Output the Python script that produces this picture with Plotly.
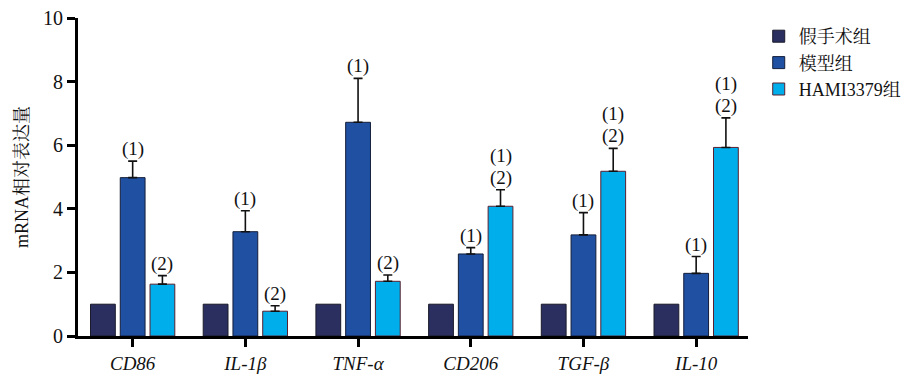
import plotly.graph_objects as go

categories = ["CD86", "IL-1β", "TNF-α", "CD206", "TGF-β", "IL-10"]
groups = ["假手术组", "模型组", "HAMI3379组"]
sham = [1.0, 1.0, 1.0, 1.0, 1.0, 1.0]
model = [4.98, 3.28, 6.72, 2.58, 3.18, 1.97]
hami = [1.63, 0.78, 1.72, 4.08, 5.18, 5.93]
sham_err = [0, 0, 0, 0, 0, 0]
model_err = [0.52, 0.66, 1.38, 0.20, 0.70, 0.53]
hami_err = [0.27, 0.17, 0.20, 0.52, 0.72, 0.93]
model_sig = ["(1)", "(1)", "(1)", "(1)", "(1)", "(1)"]
hami_sig_low = ["(2)", "(2)", "(2)", "(2)", "(2)", "(2)"]
hami_sig_high = ["", "", "", "(1)", "(1)", "(1)"]
yticks = [0, 2, 4, 6, 8, 10]

colors = ["#2a2f5f", "#1f50a2", "#00aeeb"]
edge = ["#1a1a2a", "#141e3a", "#5a2030"]
step = 0.264
bw = 0.22
idx = list(range(len(categories)))

fig = go.Figure()
series = [(sham, sham_err), (model, model_err), (hami, hami_err)]
for k, (vals, errs) in enumerate(series):
    fig.add_trace(go.Bar(
        x=idx, y=vals, name=groups[k],
        width=bw, offset=(k - 1) * step - bw / 2,
        marker=dict(color=colors[k], line=dict(color=edge[k], width=1)),
        error_y=dict(type="data", array=errs, arrayminus=[0] * len(errs),
                     symmetric=False, color="#111", thickness=1.6, width=4.5,
                     visible=any(e > 0 for e in errs)),
    ))

font_main = "Liberation Serif, Noto Serif CJK SC, Noto Sans CJK SC, serif"
ann_font = dict(family=font_main, size=19, color="#111")
for i in idx:
    fig.add_annotation(x=i, y=model[i] + model_err[i], text=model_sig[i],
                       showarrow=False, yanchor="bottom", yshift=0, font=ann_font,
                       borderpad=0)
    fig.add_annotation(x=i + step, y=hami[i] + hami_err[i], text=hami_sig_low[i],
                       showarrow=False, yanchor="bottom", yshift=0, font=ann_font,
                       borderpad=0)
    if hami_sig_high[i]:
        fig.add_annotation(x=i + step, y=hami[i] + hami_err[i], text=hami_sig_high[i],
                           showarrow=False, yanchor="bottom", yshift=22, font=ann_font,
                           borderpad=0)

fig.update_layout(
    width=918, height=376,
    margin=dict(l=78, r=166, t=18, b=40),
    plot_bgcolor="white", paper_bgcolor="white",
    barmode="overlay",
    font=dict(family=font_main, size=18, color="#111"),
    legend=dict(x=1.016, y=1.0, xanchor="left", yanchor="top",
                font=dict(family=font_main, size=18, color="#111"),
                tracegroupgap=0, itemwidth=30),
    showlegend=True,
)
fig.update_xaxes(
    range=[-0.485, 5.46], tickvals=idx,
    ticktext=["<i>%s</i>" % c for c in categories],
    showline=True, linecolor="black", linewidth=3,
    ticks="outside", ticklen=8, tickwidth=3, tickcolor="black",
    showgrid=False, zeroline=False, automargin=False,
    tickfont=dict(family=font_main, size=19, color="#111"),
)
fig.update_yaxes(
    range=[0, 10], tickvals=yticks,
    showline=True, linecolor="black", linewidth=3,
    ticks="outside", ticklen=8, tickwidth=3, tickcolor="black",
    showgrid=False, zeroline=False, automargin=False,
    tickfont=dict(family=font_main, size=20, color="#111"),
    title=dict(text="mRNA相对表达量", font=dict(family=font_main, size=18, color="#111"), standoff=10),
)

fig.write_html("out.html")
